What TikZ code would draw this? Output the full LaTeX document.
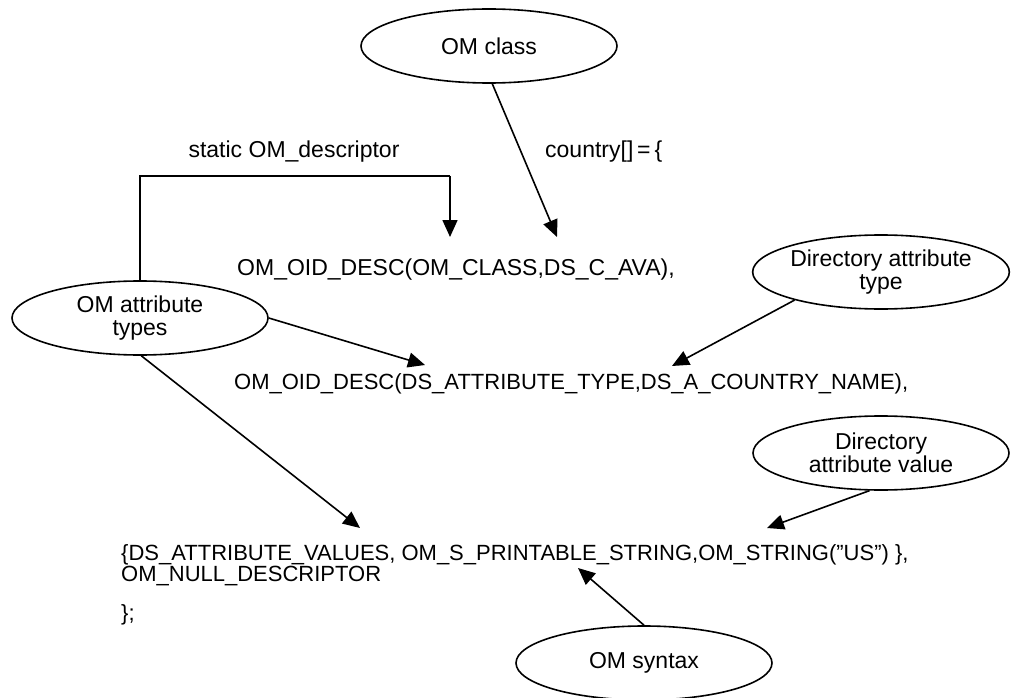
\documentclass[tikz,border=0pt]{standalone}
\usepackage{fontspec}
\setmainfont{Liberation Sans}
\usetikzlibrary{shapes.geometric,arrows.meta}
\begin{document}
\begin{tikzpicture}[x=1pt,y=-1pt,
  oval/.style={ellipse,draw,line width=1.6pt,minimum width=256pt,minimum height=74pt,inner sep=0pt,align=center,font=\fontsize{23}{23.5}\selectfont},
  lbl/.style={inner sep=0pt,font=\fontsize{23}{25}\selectfont,anchor=west},
  code/.style={inner sep=0pt,font=\fontsize{22}{21}\selectfont,anchor=west},
  conn/.style={line width=1.6pt,-{Triangle[length=17pt,width=15pt]}},
  plain/.style={line width=1.6pt}]
\useasboundingbox (0,0) rectangle (1015,698);
% ellipses
\node[oval] (cls) at (489,46) {OM class};
\node[oval] (oat) at (140,318) {OM attribute\\types};
\node[oval] (dat) at (881,272) {Directory attribute\\type};
\node[oval] (dav) at (881,453) {Directory\\attribute value};
\node[oval] (syn) at (644,663) {OM syntax};
% texts
\node[lbl,anchor=center] (static) at (294,152) {static OM\_descriptor};
\node[lbl] (country) at (545,152) {country[]\,=\,\{};
\node[lbl] (l1) at (237,270) {OM\_OID\_DESC(OM\_CLASS,DS\_C\_AVA),};
\node[code] (l2) at (234,384) {OM\_OID\_DESC(DS\_ATTRIBUTE\_TYPE,DS\_A\_COUNTRY\_NAME),};
\node[code] (l3) at (121,555) {\{DS\_ATTRIBUTE\_VALUES, OM\_S\_PRINTABLE\_STRING,OM\_STRING({\char34}US{\char34}) \},};
\node[code] (l4) at (121,576.5) {OM\_NULL\_DESCRIPTOR};
\node[code] (l5) at (121,615) {\};};
% coordinates
\coordinate (c1) at (140,176);
\coordinate (c2) at (450,176);
\coordinate (t1) at (450,237);
\coordinate (t2) at (557,237);
\coordinate (t3) at (425,365);
\coordinate (t4) at (672,366);
\coordinate (t5) at (360,528);
\coordinate (t6) at (767,528);
\coordinate (t7) at (578,568);
% connectors
\draw[plain] (oat.north) -- (c1) -- (c2);
\draw[conn] (c2) -- (t1);
\draw[conn] (cls.-85) -- (t2);
\draw[conn] (oat.east) -- (t3);
\draw[conn] (dat.-162) -- (t4);
\draw[conn] (oat.-88) -- (t5);
\draw[conn] (dav.-107) -- (t6);
\draw[conn] (syn.north) -- (t7);
\end{tikzpicture}
\end{document}
